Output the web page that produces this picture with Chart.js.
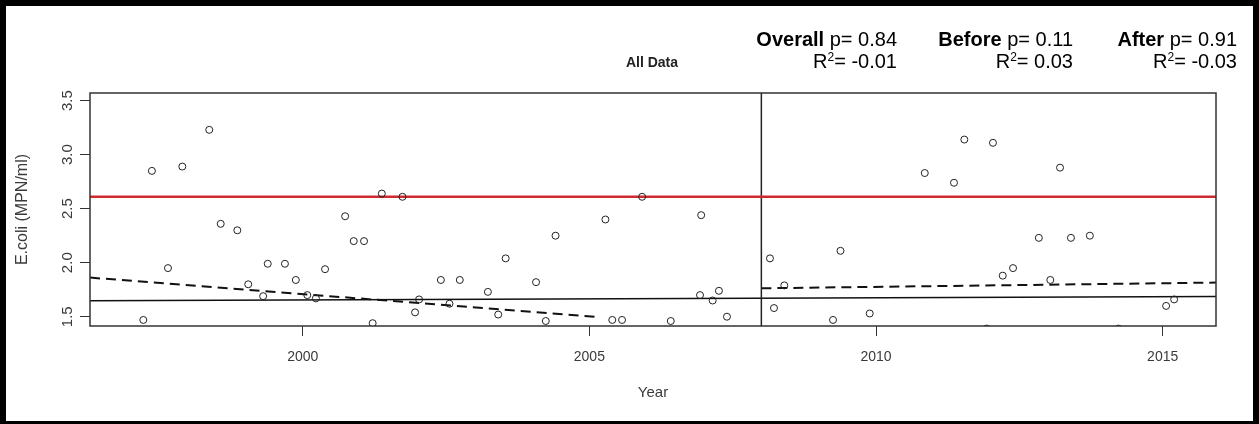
<!DOCTYPE html>
<html>
<head>
<meta charset="utf-8">
<script src="https://cdn.jsdelivr.net/npm/chart.js@4.4.1/dist/chart.umd.min.js"></script>
<style>
  body { margin: 0; background: #fff; }
  #wrap { position: relative; width: 1259px; height: 424px; font-family: "Liberation Sans", Arial, sans-serif; }
  #frame { position: absolute; left: 0; top: 0; width: 1259px; height: 424px; box-sizing: border-box;
           border: 6px solid #000; border-bottom-width: 3px; pointer-events: none; }
  .title { position: absolute; left: 592px; width: 120px; top: 54px; line-height: 16px; text-align: center;
           font-weight: bold; font-size: 14px; color: #222; }
  .stat { position: absolute; top: 28px; text-align: right; font-size: 20px; line-height: 22px; color: #000; white-space: nowrap; }
  .stat sup { font-size: 0.6em; line-height: 0; vertical-align: 0.55em; }
</style>
</head>
<body>
<div id="wrap">
  <canvas id="chart" width="1259" height="424"></canvas>
  <div class="title">All Data</div>
  <div class="stat" style="right:362px"><b>Overall</b> p= 0.84<br>R<sup>2</sup>= -0.01</div>
  <div class="stat" style="right:186px"><b>Before</b> p= 0.11<br>R<sup>2</sup>= 0.03</div>
  <div class="stat" style="right:22px"><b>After</b> p= 0.91<br>R<sup>2</sup>= -0.03</div>
  <div id="frame"></div>
</div>
<script>
// sample dates (decimal year) and E.coli values
const years = [
    1997.22, 1997.37, 1997.65, 1997.90, 1998.37, 1998.57, 1998.86, 1999.05, 1999.31, 1999.39,
    1999.69, 1999.88, 2000.08, 2000.23, 2000.39, 2000.74, 2000.89, 2001.07, 2001.22, 2001.38,
    2001.74, 2001.96, 2002.03, 2002.41, 2002.56, 2002.74, 2003.23, 2003.41, 2003.54, 2004.07,
    2004.24, 2004.41, 2005.28, 2005.40, 2005.57, 2005.92, 2006.42, 2006.95, 2006.93, 2007.15,
    2007.26, 2007.40, 2008.15, 2008.40, 2008.22, 2009.25, 2009.38, 2009.89, 2010.85, 2011.36,
    2011.54, 2012.04, 2012.21, 2012.39, 2012.84, 2013.04, 2013.21, 2013.40, 2013.73, 2015.06,
    2015.20, 2011.93, 2014.23
];
const ecoli = [
    1.47, 2.85, 1.95, 2.89, 3.23, 2.36, 2.30, 1.80, 1.69, 1.99,
    1.99, 1.84, 1.70, 1.67, 1.94, 2.43, 2.20, 2.20, 1.44, 2.64,
    2.61, 1.54, 1.66, 1.84, 1.62, 1.84, 1.73, 1.52, 2.04, 1.82,
    1.46, 2.25, 2.40, 1.47, 1.47, 2.61, 1.46, 2.44, 1.70, 1.65,
    1.74, 1.50, 2.04, 1.79, 1.58, 1.47, 2.11, 1.53, 2.83, 2.74,
    3.14, 3.11, 1.88, 1.95, 2.23, 1.84, 2.88, 2.23, 2.25, 1.60,
    1.66, 1.39, 1.39
];

// fitted lines (end points)
const overallX = [1996.29, 2015.93];
const overallY = [1.648, 1.687];
const beforeX = [1996.29, 2005.1];
const beforeY = [1.862, 1.50];
const afterX = [2008, 2015.93];
const afterY = [1.763, 1.816];

const limitValue = 2.61;
const breakYear = 2008;

const xMin = 1996.29, xMax = 2015.93;
const yMin = 1.414, yMax = 3.571;
const xTicks = [2000, 2005, 2010, 2015];
const yTicks = [1.5, 2.0, 2.5, 3.0, 3.5];

const toPoints = (xs, ys) => xs.map((x, i) => ({ x: x, y: ys[i] }));

Chart.defaults.font.family = '"Liberation Sans", Arial, sans-serif';

// plot box like R's box()
const boxPlugin = {
    id: 'box',
    afterDatasetsDraw(chart) {
        const { ctx, chartArea: a } = chart;
        ctx.save();
        ctx.strokeStyle = '#333';
        ctx.lineWidth = 1.5;
        ctx.strokeRect(a.left, a.top, a.right - a.left, a.bottom - a.top);
        ctx.restore();
    }
};

new Chart(document.getElementById('chart'), {
    type: 'scatter',
    data: {
        datasets: [
            {
                data: toPoints(years, ecoli),
                pointStyle: 'circle',
                pointRadius: 3.5,
                borderWidth: 1,
                borderColor: '#222',
                backgroundColor: 'rgba(0,0,0,0)',
                clip: 0
            },
            {
                type: 'line',
                data: toPoints([xMin, xMax], [limitValue, limitValue]),
                borderColor: '#cf2a30',
                borderWidth: 2.5,
                pointRadius: 0
            },
            {
                type: 'line',
                data: toPoints([breakYear, breakYear], [yMin, yMax]),
                borderColor: '#222',
                borderWidth: 1.5,
                pointRadius: 0
            },
            {
                type: 'line',
                data: toPoints(overallX, overallY),
                borderColor: '#111',
                borderWidth: 1.5,
                pointRadius: 0
            },
            {
                type: 'line',
                data: toPoints(beforeX, beforeY),
                borderColor: '#111',
                borderWidth: 2,
                borderDash: [10, 6],
                pointRadius: 0
            },
            {
                type: 'line',
                data: toPoints(afterX, afterY),
                borderColor: '#111',
                borderWidth: 2,
                borderDash: [10, 6],
                pointRadius: 0
            }
        ]
    },
    options: {
        responsive: false,
        animation: false,
        devicePixelRatio: 1,
        layout: { padding: { top: 93, right: 43, left: 0, bottom: 0 } },
        plugins: {
            legend: { display: false },
            tooltip: { enabled: false }
        },
        scales: {
            x: {
                type: 'linear',
                min: xMin,
                max: xMax,
                afterBuildTicks: s => { s.ticks = xTicks.map(v => ({ value: v })); },
                afterFit: s => { s.height = 98; },
                ticks: {
                    callback: v => String(v),
                    autoSkip: false,
                    maxRotation: 0,
                    padding: 13,
                    color: '#3a3a3a',
                    font: { size: 14 }
                },
                grid: { drawOnChartArea: false, tickLength: 10, tickColor: '#333' },
                border: { display: false },
                title: {
                    display: true,
                    text: 'Year',
                    color: '#3a3a3a',
                    font: { size: 15 },
                    padding: { top: 0, bottom: 22 }
                }
            },
            y: {
                min: yMin,
                max: yMax,
                afterBuildTicks: s => { s.ticks = yTicks.map(v => ({ value: v })); },
                afterFit: s => { s.width = 90; },
                ticks: {
                    callback: v => v.toFixed(1),
                    autoSkip: false,
                    minRotation: 90,
                    maxRotation: 90,
                    crossAlign: 'center',
                    padding: 2,
                    color: '#3a3a3a',
                    font: { size: 15 }
                },
                grid: { drawOnChartArea: false, tickLength: 10, tickColor: '#333' },
                border: { display: false },
                title: {
                    display: true,
                    text: 'E.coli (MPN/ml)',
                    color: '#3a3a3a',
                    font: { size: 16 },
                    padding: { top: 13, bottom: 0 }
                }
            }
        }
    },
    plugins: [boxPlugin]
});
</script>
</body>
</html>
